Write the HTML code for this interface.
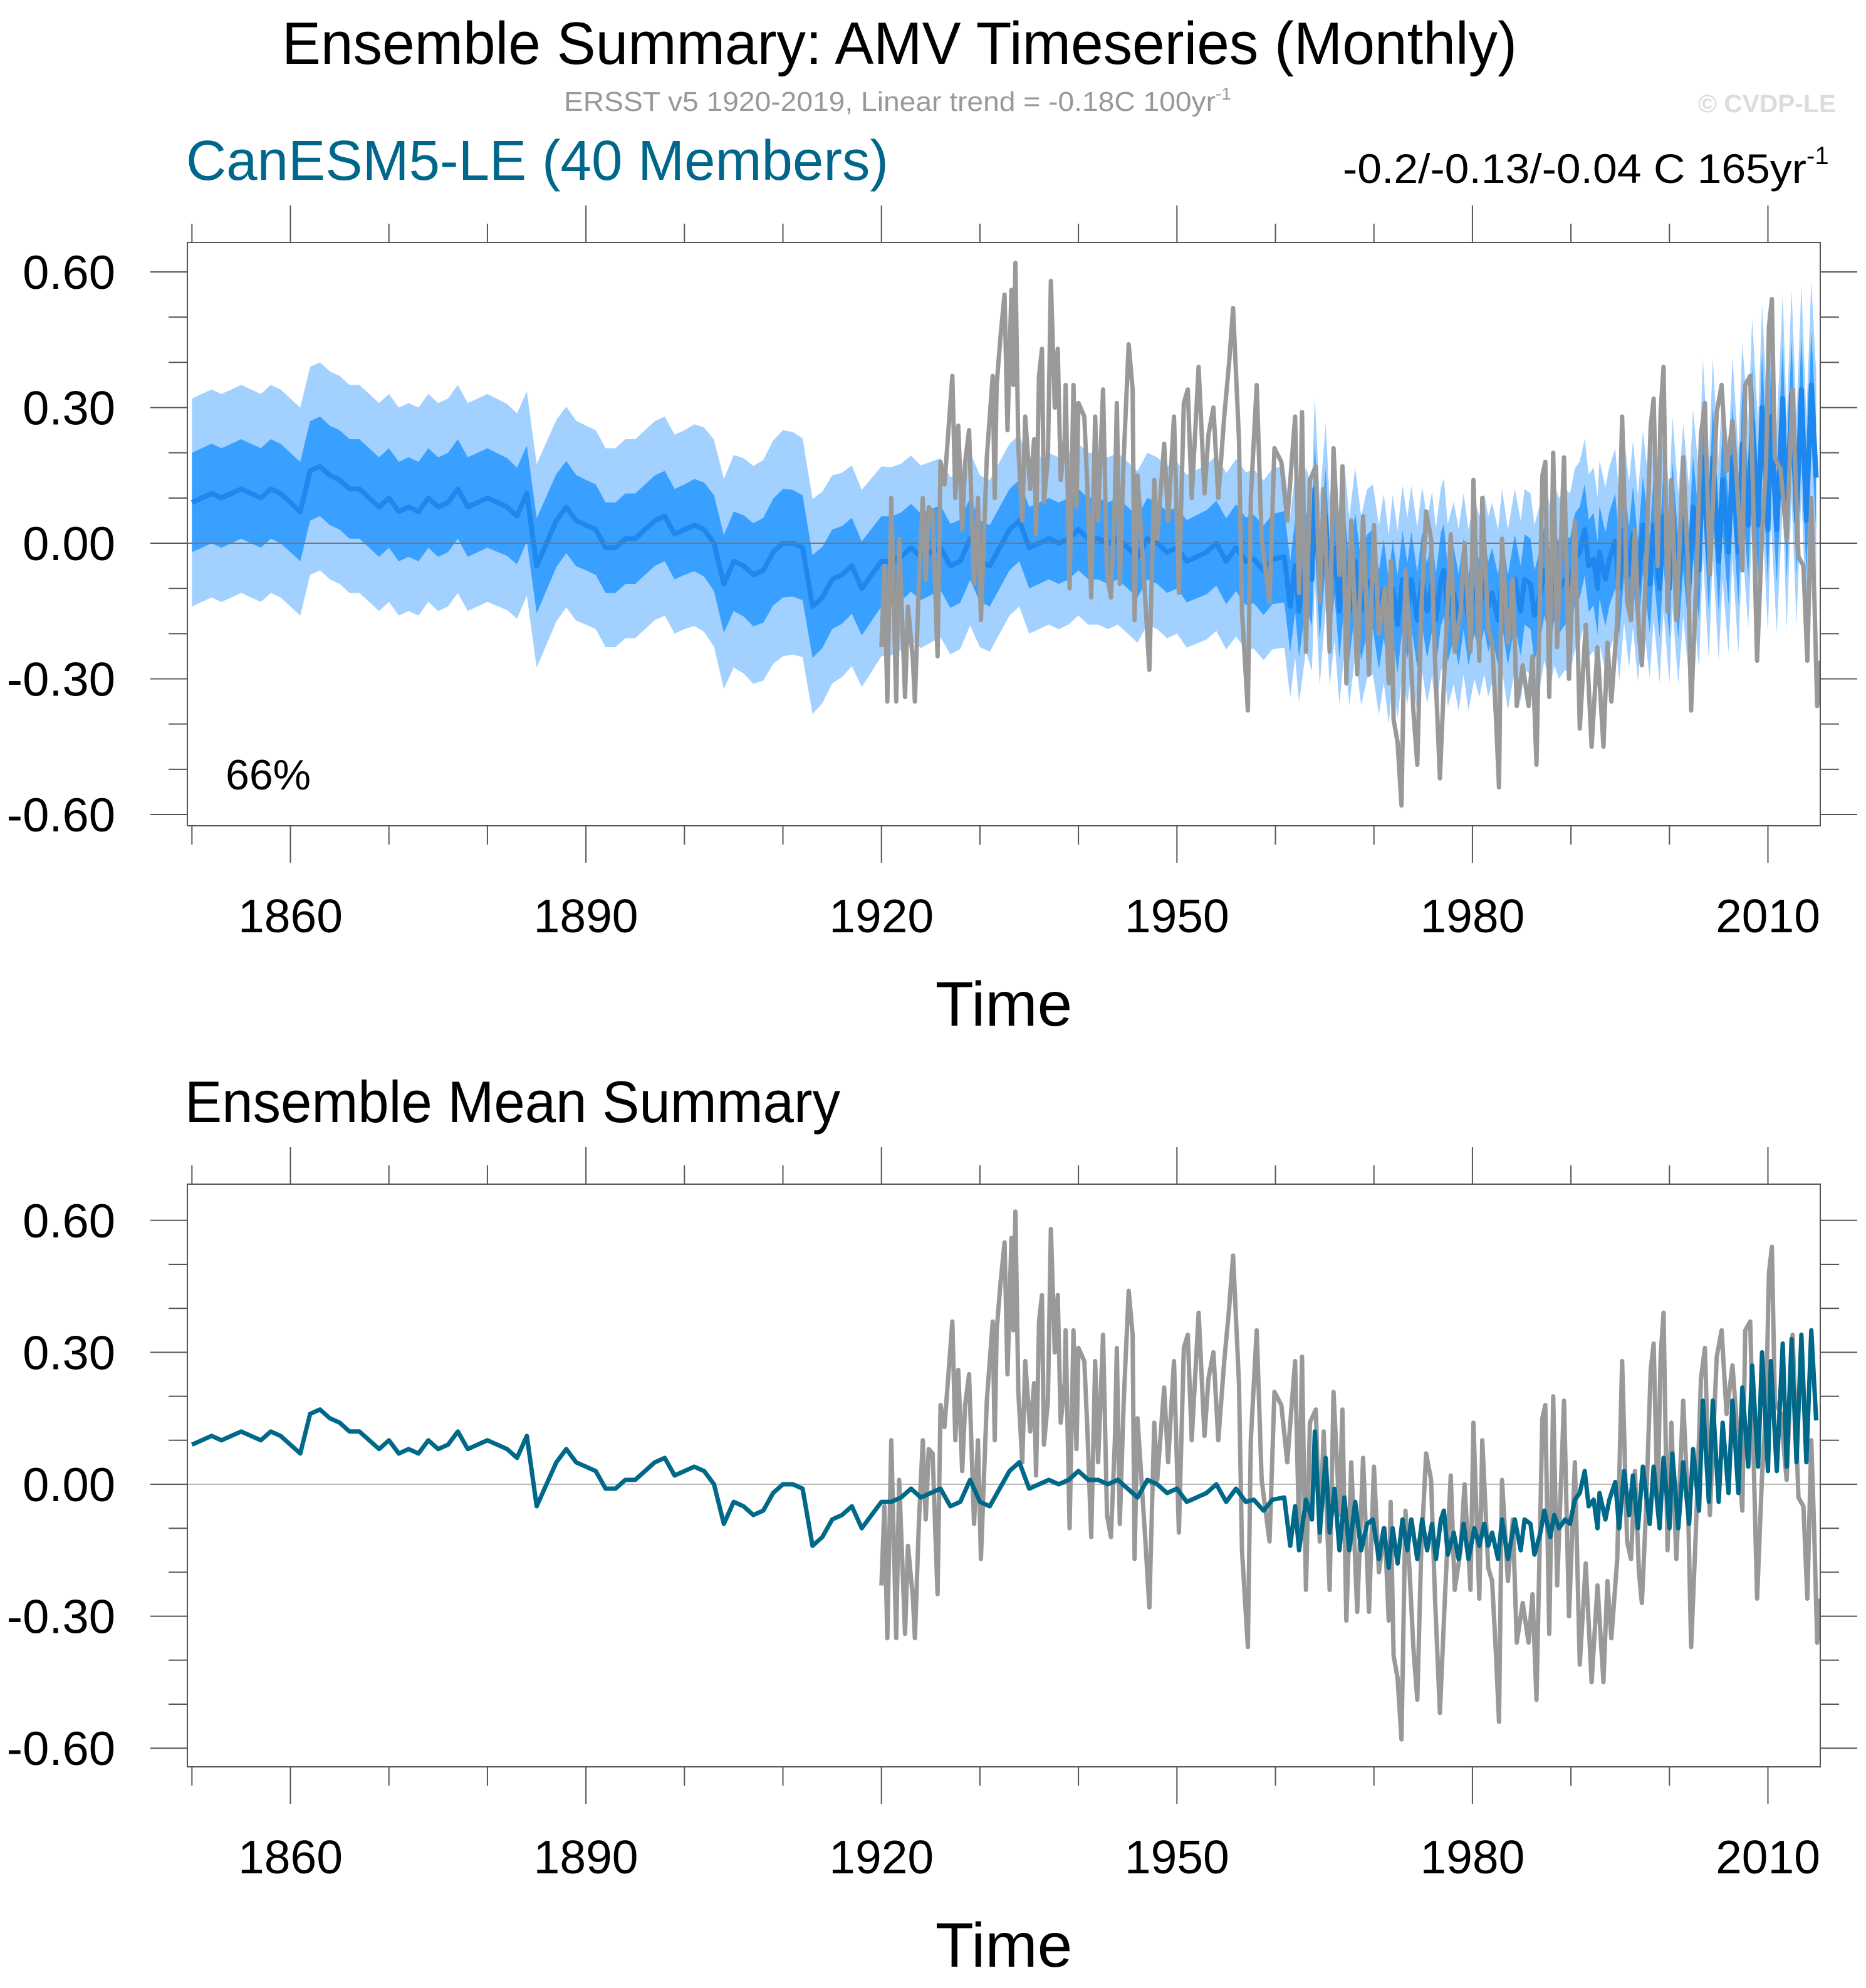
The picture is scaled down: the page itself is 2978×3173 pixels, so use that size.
<!DOCTYPE html>
<html><head><meta charset="utf-8"><style>
html,body{margin:0;padding:0;background:#fff;}
svg{display:block;font-family:"Liberation Sans",sans-serif;}
</style></head><body>
<svg id="chart" xmlns="http://www.w3.org/2000/svg" width="2978" height="3173" viewBox="0 0 2978 3173">
<rect x="0" y="0" width="2978" height="3173" fill="#fff"/>
<text x="450" y="102" font-size="96" textLength="1971" lengthAdjust="spacingAndGlyphs">Ensemble Summary: AMV Timeseries (Monthly)</text>
<text x="900" y="177" font-size="44" fill="#999"><tspan textLength="1040" lengthAdjust="spacingAndGlyphs">ERSST v5 1920-2019, Linear trend = -0.18C 100yr</tspan><tspan font-size="28" dy="-18">-1</tspan></text>
<text x="2710" y="179" font-size="40" font-weight="bold" fill="#dcdcdc" textLength="220" lengthAdjust="spacingAndGlyphs">© CVDP-LE</text>
<text x="297" y="287" font-size="90" fill="#00668a" textLength="1121" lengthAdjust="spacingAndGlyphs">CanESM5-LE (40 Members)</text>
<text x="2143" y="292" font-size="66"><tspan textLength="740" lengthAdjust="spacingAndGlyphs">-0.2/-0.13/-0.04 C 165yr</tspan><tspan font-size="40" dy="-30">-1</tspan></text>
<text x="295" y="1791" font-size="94" textLength="1046" lengthAdjust="spacingAndGlyphs">Ensemble Mean Summary</text>
<g id="top"></g>
<g id="bot"></g>
</svg>
<script>
const meanT = [1850,1851,1852,1853,1854,1855,1856,1857,1858,1859,1860,1861,1862,1863,1864,1865,1866,1867,1868,1869,1870,1871,1872,1873,1874,1875,1876,1877,1878,1879,1880,1881,1882,1883,1884,1885,1886,1887,1888,1889,1890,1891,1892,1893,1894,1895,1896,1897,1898,1899,1900,1901,1902,1903,1904,1905,1906,1907,1908,1909,1910,1911,1912,1913,1914,1915,1916,1917,1918,1919,1920,1921,1922,1923,1924,1925,1926,1927,1928,1929,1930,1931,1932,1933,1934,1935,1936,1937,1938,1939,1940,1941,1942,1943,1944,1945,1946,1947,1948,1949,1950,1951,1952,1953,1954,1955,1956,1957,
1957.8,1958.8,1959.7,1960.9,1961.5,1962.0,1962.4,1963.1,1963.7,1964.0,1964.5,1965.1,1965.5,1966.0,1966.5,1967.0,1967.5,1968.1,1968.7,1969.3,1969.9,1970.5,1971.0,1971.5,1971.9,1972.4,1972.9,1973.4,1973.8,1974.4,1974.9,1975.4,1975.9,1976.3,1976.8,1977.1,1977.5,1978.1,1978.6,1979.1,1979.6,1980.2,1980.7,1981.2,1981.6,1982.0,1982.6,1983.0,1983.6,1984.3,1984.9,1985.3,1985.9,1986.3,1986.9,1987.3,1987.9,1988.3,1988.8,1989.4,1989.9,1990.4,1990.9,1991.4,1991.8,1992.3,1992.7,1992.9,1993.5,1993.9,1994.5,1994.9,1995.4,1995.9,1996.3,1996.8,1997.3,1998.0,1998.4,1999.0,1999.4,2000.0,2000.3,2000.9,2001.4,2002.0,2002.4,2003.0,2003.4,2004.0,2004.4,2005.0,2005.4,2006.0,2006.4,2007.0,2007.4,2008.0,2008.4,2009.0,2009.4,2010.0,2010.3,2010.9,2011.5,2011.9,2012.4,2012.9,2013.4,2013.9,2014.4,2014.9];
const meanV = [0.09,0.10,0.11,0.10,0.11,0.12,0.11,0.10,0.12,0.11,0.09,0.07,0.16,0.17,0.15,0.14,0.12,0.12,0.10,0.08,0.10,0.07,0.08,0.07,0.10,0.08,0.09,0.12,0.08,0.09,0.10,0.09,0.08,0.06,0.11,-0.05,0.0,0.05,0.08,0.05,0.04,0.03,-0.01,-0.01,0.01,0.01,0.03,0.05,0.06,0.02,0.03,0.04,0.03,0.0,-0.09,-0.04,-0.05,-0.07,-0.06,-0.02,0.0,0.0,-0.01,-0.14,-0.12,-0.08,-0.07,-0.05,-0.10,-0.07,-0.04,-0.04,-0.03,-0.01,-0.03,-0.02,-0.01,-0.05,-0.04,0.01,-0.04,-0.05,-0.01,0.03,0.05,-0.01,0.0,0.01,0.0,0.01,0.03,0.01,0.01,0.0,0.01,-0.01,-0.03,0.01,0.0,-0.02,-0.01,-0.04,-0.03,-0.02,0.0,-0.04,-0.01,-0.04,
-0.035,-0.06,-0.035,-0.03,-0.14,-0.05,-0.15,-0.035,-0.08,0.12,-0.11,0.06,-0.11,-0.01,-0.15,-0.03,-0.15,-0.04,-0.15,-0.09,-0.08,-0.17,-0.10,-0.19,-0.10,-0.18,-0.08,-0.15,-0.08,-0.17,-0.08,-0.15,-0.09,-0.17,-0.08,-0.06,-0.16,-0.11,-0.17,-0.09,-0.17,-0.10,-0.14,-0.09,-0.14,-0.11,-0.17,-0.08,-0.17,-0.08,-0.15,-0.08,-0.09,-0.16,-0.11,-0.06,-0.12,-0.07,-0.10,-0.08,-0.09,-0.035,-0.02,0.03,-0.05,-0.035,-0.10,-0.02,-0.08,-0.035,0.005,-0.10,0.03,-0.07,0.02,-0.10,0.04,-0.09,0.04,-0.10,0.06,-0.10,0.07,-0.10,0.05,-0.09,0.08,-0.06,0.19,-0.04,0.19,-0.04,0.14,-0.02,0.19,-0.02,0.22,0.04,0.27,0.04,0.30,0.03,0.28,0.03,0.32,0.04,0.33,0.05,0.34,0.05,0.35,0.145];
const obsT = [1920.0,1920.3,1920.6,1921.0,1921.5,1921.8,1922.4,1922.7,1923.2,1923.4,1923.8,1924.2,1924.5,1924.8,1925.2,1925.6,1925.7,1926.0,1926.4,1926.9,1927.2,1927.5,1927.8,1928.2,1928.5,1928.9,1929.4,1929.8,1930.1,1930.7,1931.3,1931.5,1931.7,1932.1,1932.5,1932.8,1933.2,1933.4,1933.6,1933.9,1934.3,1934.6,1935.1,1935.5,1935.7,1936.0,1936.3,1936.5,1936.9,1937.2,1937.6,1937.9,1938.2,1938.6,1938.7,1939.1,1939.5,1939.8,1940.0,1940.6,1940.9,1941.3,1941.7,1942.0,1942.5,1942.9,1943.3,1943.7,1943.9,1944.2,1944.6,1945.1,1945.5,1945.7,1946.0,1946.8,1947.2,1947.7,1948.0,1948.7,1949.1,1949.7,1950.2,1950.7,1951.1,1951.5,1952.2,1952.8,1953.2,1953.7,1954.2,1954.8,1955.3,1955.7,1956.3,1956.6,1957.2,1957.5,1958.1,1958.6,1959.4,1959.9,1960.6,1961.2,
1962.0,1962.4,1962.7,1963.1,1963.5,1964.1,1964.5,1964.9,1965.5,1965.9,1966.5,1966.8,1967.2,1967.7,1968.3,1968.9,1969.5,1970.0,1970.5,1971.1,1971.5,1971.7,1972.0,1972.4,1972.8,1973.2,1973.6,1974.0,1974.4,1974.8,1975.3,1975.8,1976.2,1976.7,1977.2,1977.8,1978.2,1978.8,1979.2,1979.8,1980.1,1980.7,1981.0,1981.6,1982.0,1982.4,1982.7,1983.0,1983.6,1984.1,1984.5,1985.1,1985.7,1986.1,1986.5,1987.1,1987.4,1987.8,1988.2,1988.6,1989.3,1989.8,1990.4,1990.9,1991.5,1992.1,1992.7,1993.3,1993.7,1994.1,1994.7,1995.2,1995.7,1996.1,1996.5,1996.9,1997.2,1997.6,1998.1,1998.4,1998.8,1999.1,1999.4,1999.8,2000.2,2000.7,2001.4,2001.9,2002.2,2002.7,2003.2,2003.6,2004.1,2004.8,2005.3,2005.8,2006.4,2006.8,2007.4,2007.7,2008.2,2008.9,2009.4,2009.8,2010.1,2010.4,2010.7,2011.3,2011.9,2012.5,2013.1,2013.6,2014.0,2014.4,2014.7,2015.0,2015.3];
const obsV = [-0.23,-0.05,-0.35,0.10,-0.35,0.01,-0.34,-0.14,-0.26,-0.35,-0.09,0.10,-0.08,0.08,0.07,-0.19,-0.25,0.18,0.13,0.28,0.37,0.10,0.26,0.03,0.18,0.25,-0.09,0.10,-0.17,0.19,0.37,0.10,0.35,0.46,0.55,0.25,0.56,0.35,0.62,0.21,0.05,0.28,0.12,0.23,0.02,0.37,0.43,0.09,0.19,0.58,0.30,0.43,0.14,0.23,0.35,-0.10,0.35,0.08,0.31,0.28,0.13,-0.12,0.28,0.05,0.34,-0.07,-0.12,0.10,0.31,-0.09,0.19,0.44,0.34,-0.17,0.15,-0.13,-0.28,0.14,0.01,0.22,0.05,0.28,-0.11,0.31,0.34,0.10,0.39,0.11,0.24,0.30,0.10,0.28,0.40,0.52,0.23,-0.15,-0.37,0.10,0.35,0.01,-0.13,0.21,0.18,0.05,
0.28,-0.11,0.29,-0.24,0.14,0.17,-0.13,0.12,-0.24,0.21,-0.07,0.17,-0.31,0.05,-0.29,0.06,-0.29,0.04,-0.20,-0.10,-0.31,-0.04,-0.39,-0.44,-0.58,-0.06,-0.19,-0.37,-0.49,-0.15,0.07,0.01,-0.26,-0.52,-0.26,0.02,-0.24,-0.15,0.0,-0.24,0.14,-0.26,0.10,-0.19,-0.22,-0.39,-0.54,0.01,-0.22,-0.08,-0.36,-0.27,-0.36,-0.25,-0.49,0.15,0.18,-0.34,0.20,-0.23,0.19,-0.30,0.05,-0.41,-0.18,-0.45,-0.23,-0.45,-0.22,-0.35,-0.17,0.28,-0.13,-0.17,0.03,-0.20,-0.27,-0.07,0.26,0.32,-0.05,0.29,0.39,-0.15,0.14,-0.17,0.19,-0.06,-0.37,-0.10,0.24,0.31,-0.07,0.29,0.35,0.16,0.27,0.15,-0.06,0.35,0.37,-0.26,0.02,0.17,0.48,0.54,0.19,0.16,0.01,0.34,-0.03,-0.05,-0.26,0.10,-0.11,-0.36,-0.26];
const bandYears = [1850,1860,1870,1880,1890,1900,1910,1920,1930,1940,1950,1960,1970,1980,1990,2000,2010,2015];
const darkHalf  = [0.11,0.11,0.11,0.11,0.10,0.10,0.12,0.10,0.09,0.09,0.09,0.10,0.11,0.10,0.10,0.11,0.12,0.12];
const lightHalf = [0.23,0.23,0.23,0.23,0.22,0.22,0.25,0.21,0.19,0.19,0.19,0.20,0.21,0.20,0.20,0.21,0.23,0.23];
const yTickVals = [0.6,0.3,0,-0.3,-0.6];
const yTickLabels = ["0.60","0.30","0.00","-0.30","-0.60"];
const xTickYears = [1860,1890,1920,1950,1980,2010];
const xTickLabels = ["1860","1890","1920","1950","1980","2010"];

const NS='http://www.w3.org/2000/svg';
const L=299,R=2905;
const xS = y => 463.5 + (y-1860)*15.72;
function mk(tag, attrs, parent){const e=document.createElementNS(NS,tag);for(const k in attrs)e.setAttribute(k,attrs[k]);parent.appendChild(e);return e;}
function halfAt(t, arr){
  for(let i=0;i<bandYears.length-1;i++){
    if(t<=bandYears[i+1]){const f=(t-bandYears[i])/(bandYears[i+1]-bandYears[i]);return arr[i]+(arr[i+1]-arr[i])*Math.max(0,f);}
  }
  return arr[arr.length-1];
}
function linePts(T,V,yS){return T.map((t,i)=>xS(t).toFixed(1)+','+yS(V[i]).toFixed(1)).join(' ');}
function bandPts(arr,yS){
  const up=meanT.map((t,i)=>xS(t).toFixed(1)+','+yS(meanV[i]+halfAt(t,arr)).toFixed(1));
  const lo=meanT.map((t,i)=>xS(t).toFixed(1)+','+yS(meanV[i]-halfAt(t,arr)).toFixed(1)).reverse();
  return up.concat(lo).join(' ');
}
function panel(g, top, bottom, y0, ppu, isTop, id){
  const yS = v => y0 - v*ppu;
  const defs=mk('defs',{},g);
  const cp=mk('clipPath',{id:'clip'+id},defs);
  mk('rect',{x:L,y:top,width:R-L,height:bottom-top},cp);
  const plot=mk('g',{'clip-path':'url(#clip'+id+')'},g);
  if(isTop){
    const lb=mk('polygon',{points:bandPts(lightHalf,yS),fill:'#a3d1ff'},plot);
    
    
    const db=mk('polygon',{points:bandPts(darkHalf,yS),fill:'#39a0ff'},plot);
    
    
    const ml=mk('polyline',{points:linePts(meanT,meanV,yS),fill:'none',stroke:'#1e88ee','stroke-width':8,'stroke-linejoin':'round'},plot);
    
    
    const zl=mk('line',{x1:L,x2:R,y1:yS(0),y2:yS(0),stroke:'#777','stroke-width':2},plot);
    
    
    const ol=mk('polyline',{points:linePts(obsT,obsV,yS),fill:'none',stroke:'#999','stroke-width':7,'stroke-linejoin':'round'},plot);
    
    
  } else {
    const zl=mk('line',{x1:L,x2:R,y1:yS(0),y2:yS(0),stroke:'#bbb','stroke-width':2},plot);
    
    
    const ol=mk('polyline',{points:linePts(obsT,obsV,yS),fill:'none',stroke:'#999','stroke-width':7,'stroke-linejoin':'round'},plot);
    
    
    const ml=mk('polyline',{points:linePts(meanT,meanV,yS),fill:'none',stroke:'#006889','stroke-width':7,'stroke-linejoin':'round'},plot);
    
    
  }
  const box=mk('rect',{x:L,y:top,width:R-L,height:bottom-top,fill:'none',stroke:'#555','stroke-width':2},g);
  
  
  for(let k=-7;k<=7;k++){
    const v=k/10, y=yS(v);
    if(y<top-1||y>bottom+1) continue;
    const major = (k%3===0);
    const len = major?59:30;
    mk('line',{x1:L-len,x2:L,y1:y,y2:y,stroke:'#555','stroke-width':2},g);
    mk('line',{x1:R,x2:R+len,y1:y,y2:y,stroke:'#555','stroke-width':2},g);
  }
  yTickVals.forEach((v,i)=>{
    const t=mk('text',{x:184,y:yS(v)+27,'font-size':76,'text-anchor':'end'},g);
    t.textContent=yTickLabels[i];
    
    
  });
  for(let yr=1850;yr<=2010;yr+=10){
    const x=xS(yr), major=((yr-1860)%30===0), len=major?59:30;
    mk('line',{x1:x,x2:x,y1:top-len,y2:top,stroke:'#555','stroke-width':2},g);
    mk('line',{x1:x,x2:x,y1:bottom,y2:bottom+len,stroke:'#555','stroke-width':2},g);
  }
  xTickYears.forEach((yr,i)=>{
    const t=mk('text',{x:xS(yr),y:bottom+170,'font-size':75,'text-anchor':'middle'},g);
    t.textContent=xTickLabels[i];
    
    
  });
  const xt=mk('text',{x:(L+R)/2,y:bottom+319,'font-size':100,'text-anchor':'middle'},g);
  xt.textContent='Time';
  
  
  if(isTop){
    const p=mk('text',{x:360,y:1260,'font-size':68},g);
    p.textContent='66%';
    
    
  }
}
panel(document.getElementById('top'),387,1318,867,721.7,true,'T');
panel(document.getElementById('bot'),1890,2820,2369,702,false,'B');
</script>
</body></html>
